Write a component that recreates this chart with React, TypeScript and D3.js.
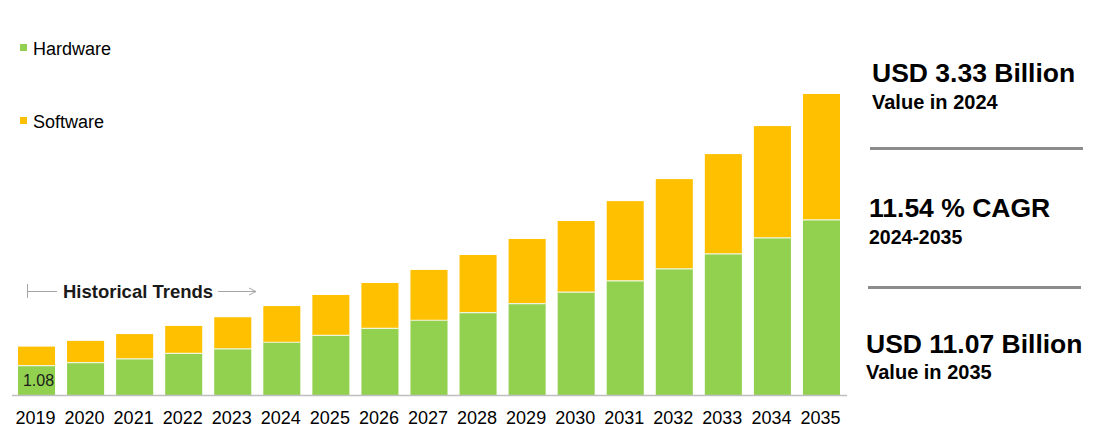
import * as d3 from "d3";

const years = [
  "2019", "2020", "2021", "2022", "2023", "2024", "2025", "2026", "2027",
  "2028", "2029", "2030", "2031", "2032", "2033", "2034", "2035",
];
const hardware = [
  1.08, 1.19, 1.33, 1.53, 1.7, 1.94, 2.19, 2.45, 2.75, 3.03, 3.36, 3.78, 4.2,
  4.64, 5.19, 5.78, 6.44,
];
const software = [
  0.7, 0.8, 0.91, 1.01, 1.16, 1.33, 1.49, 1.67, 1.85, 2.12, 2.38, 2.62, 2.93,
  3.3, 3.67, 4.11, 4.63,
];
const seriesNames = ["Hardware", "Software"];
const colors = ["#92d050", "#ffc000"];

const W = 1110;
const H = 441;
const font = "Arial, 'Liberation Sans', Helvetica, sans-serif";

export default function App() {
  const x = d3
    .scaleBand()
    .domain(years)
    .range([18, 840])
    .paddingInner(0.245)
    .paddingOuter(0);

  const y = d3
    .scaleLinear()
    .domain([0, hardware[16] + software[16]])
    .range([395, 94]);

  const table = years.map((yr, i) => ({ year: yr, Hardware: hardware[i], Software: software[i] }));
  const stacked = d3.stack<any>().keys(seriesNames)(table);

  return (
    <div style={{ position: "absolute", left: 0, top: 0 }}>
      <svg width={W} height={H} style={{ display: "block", fontFamily: font }}>
        <rect width={W} height={H} fill="#fff" />

        {/* legend */}
        {seriesNames.map((name, i) => (
          <g key={name} transform={`translate(20,${i === 0 ? 44 : 117})`}>
            <rect width={7} height={7} fill={colors[i]} />
            <text x={13} y={11} fontSize={18} fill="#000">
              {name}
            </text>
          </g>
        ))}

        {/* stacked bars */}
        {stacked.map((layer, li) => (
          <g key={layer.key} fill={colors[li]}>
            {layer.map((d, i) => (
              <rect
                key={i}
                x={x(years[i])}
                y={y(d[1])}
                width={x.bandwidth()}
                height={y(d[0]) - y(d[1])}
              />
            ))}
          </g>
        ))}
        {/* thin separators between segments */}
        {stacked[0].map((d, i) => (
          <line
            key={i}
            x1={x(years[i])}
            x2={(x(years[i]) || 0) + x.bandwidth()}
            y1={y(d[1])}
            y2={y(d[1])}
            stroke="#eef5dc"
            strokeWidth={1.2}
          />
        ))}

        {/* value label in first bar */}
        <text
          x={(x(years[0]) || 0) + x.bandwidth() / 2 + 2}
          y={(y(0) + y(hardware[0])) / 2 + 6}
          textAnchor="middle"
          fontSize={16}
          fill="#1a1a1a"
        >
          {hardware[0].toFixed(2)}
        </text>

        {/* axis line */}
        <line x1={12} x2={847} y1={395.5} y2={395.5} stroke="#bfbfbf" strokeWidth={1.6} />
        {years.map((yr) => (
          <text
            key={yr}
            x={(x(yr) || 0) + x.bandwidth() / 2 - 1}
            y={424}
            textAnchor="middle"
            fontSize={18}
            fill="#000"
          >
            {yr}
          </text>
        ))}

        {/* historical trends marker */}
        <g stroke="#a6a6a6" strokeWidth={1}>
          <line x1={27.5} x2={27.5} y1={284} y2={298} />
          <line x1={27.5} x2={57} y1={291.5} y2={291.5} />
          <line x1={218} x2={255} y1={291.5} y2={291.5} />
          <path d="M249,288 L256,291.5 L249,295" fill="none" />
        </g>
        <text x={63} y={297.5} fontSize={18.5} fontWeight="bold" fill="#1a1a1a">
          Historical Trends
        </text>

        {/* right panel */}
        <text x={872} y={82} fontSize={26.5} fontWeight="bold" fill="#000">
          USD 3.33 Billion
        </text>
        <text x={872} y={109} fontSize={20} fontWeight="bold" fill="#000">
          Value in 2024
        </text>
        <line x1={870} x2={1083} y1={148.5} y2={148.5} stroke="#8c8c8c" strokeWidth={3} />

        <text x={869} y={216.5} fontSize={26.5} fontWeight="bold" fill="#000">
          11.54 % CAGR
        </text>
        <text x={869} y={243.5} fontSize={19.5} fontWeight="bold" fill="#000">
          2024-2035
        </text>
        <line x1={868} x2={1081} y1={287.5} y2={287.5} stroke="#8c8c8c" strokeWidth={3} />

        <text x={866} y={353} fontSize={26.5} fontWeight="bold" fill="#000">
          USD 11.07 Billion
        </text>
        <text x={866} y={378.5} fontSize={20} fontWeight="bold" fill="#000">
          Value in 2035
        </text>
      </svg>
    </div>
  );
}
